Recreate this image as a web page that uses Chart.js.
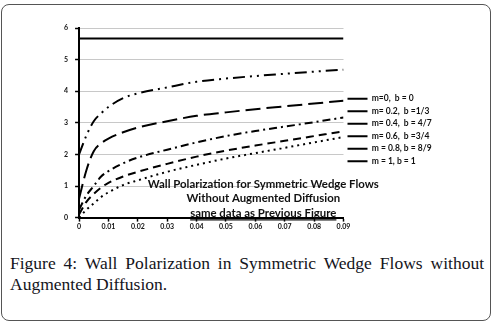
<!DOCTYPE html>
<html>
<head>
<meta charset="utf-8">
<script src="https://cdn.jsdelivr.net/npm/chart.js@4/dist/chart.umd.min.js"></script>
<style>
  html, body { margin: 0; padding: 0; background: #fff; }
  #frame {
    position: absolute; left: 1px; top: 4px; width: 490px; height: 317px;
    border: 1.5px solid #555; border-radius: 8px; box-sizing: border-box;
  }
  #wrap { position: absolute; left: 0; top: 0; width: 497px; height: 242px; }
  #caption {
    position: absolute; left: 10px; top: 253px; width: 474px;
    font-family: "Liberation Serif", serif; font-size: 17.5px; line-height: 21px;
    color: #141420; text-align: justify; text-align-last: left;
  }
</style>
</head>
<body>
<div id="frame"></div>
<div id="wrap"><canvas id="Grafik"></canvas></div>
<div id="caption">Figure 4: Wall Polarization in Symmetric Wedge Flows without Augmented Diffusion.</div>
<script>
// x positions
var xVals = [0, 0.0025, 0.005, 0.0075, 0.01, 0.015, 0.02, 0.03, 0.04, 0.05, 0.06, 0.07, 0.08, 0.09];

var m00 = [0, 0.25, 0.45, 0.65, 0.8, 1.03, 1.18, 1.45, 1.67, 1.87, 2.04, 2.21, 2.38, 2.55];
var m02 = [0.1, 0.5, 0.75, 0.95, 1.1, 1.3, 1.45, 1.7, 1.93, 2.12, 2.28, 2.43, 2.58, 2.73];
var m04 = [0.25, 0.7, 1.0, 1.3, 1.47, 1.72, 1.9, 2.15, 2.38, 2.58, 2.74, 2.88, 3.02, 3.17];
var m06 = [0.6, 1.5, 2.1, 2.35, 2.5, 2.7, 2.85, 3.05, 3.22, 3.33, 3.43, 3.52, 3.61, 3.7];
var m08 = [2.0, 2.6, 3.05, 3.3, 3.5, 3.78, 3.93, 4.12, 4.3, 4.4, 4.48, 4.55, 4.62, 4.68];
var m10 = [5.67, 5.67, 5.67, 5.67, 5.67, 5.67, 5.67, 5.67, 5.67, 5.67, 5.67, 5.67, 5.67, 5.67];

var labels = ['m=0,  b = 0', 'm= 0.2,  b =1/3', 'm= 0.4,  b = 4/7', 'm= 0.6,  b =3/4', 'm = 0.8, b = 8/9', 'm = 1, b = 1'];
var noteLines = ['Wall Polarization for Symmetric Wedge Flows', 'Without Augmented Diffusion', 'same data as Previous Figure'];

function pts(arr) {
    return arr.map(function (v, i) { return { x: xVals[i], y: v }; });
}

function seri(label, arr, dash) {
    return {
        label: label,
        data: pts(arr),
        borderColor: '#000',
        backgroundColor: '#000',
        borderWidth: 2,
        borderDash: dash,
        pointRadius: 0,
        cubicInterpolationMode: 'monotone',
        fill: false
    };
}

// text block inside the plot
var notePlugin = {
    id: 'note',
    afterDatasetsDraw: function (chart) {
        var c = chart.ctx;
        var sx = chart.scales.x, sy = chart.scales.y;
        var cx = sx.getPixelForValue(0.0627);
        var ys = [1.05, 0.6, 0.15];
        c.save();
        c.fillStyle = '#111';
        c.font = 'bold 11.4px Lato, "Open Sans", sans-serif';
        c.textAlign = 'center';
        c.textBaseline = 'middle';
        noteLines.forEach(function (t, i) {
            c.fillText(t, cx, sy.getPixelForValue(ys[i]));
        });
        var w = c.measureText(noteLines[2]).width;
        var uy = sy.getPixelForValue(ys[2]) + 7;
        c.strokeStyle = '#111';
        c.lineWidth = 1.2;
        c.beginPath();
        c.moveTo(cx - w / 2, uy);
        c.lineTo(cx + w / 2, uy);
        c.stroke();
        c.restore();
    }
};

var ctxG = document.getElementById('Grafik').getContext('2d');
var grafik = new Chart(ctxG, {
    type: 'line',
    data: {
        datasets: [
            seri(labels[0], m00, [2, 4]),
            seri(labels[1], m02, [8, 5]),
            seri(labels[2], m04, [8, 4, 2, 4]),
            seri(labels[3], m06, [15, 6]),
            seri(labels[4], m08, [12, 5, 2, 5, 2, 5]),
            seri(labels[5], m10, [])
        ]
    },
    options: {
        responsive: true,
        maintainAspectRatio: false,
        animation: false,
        layout: { padding: { left: 57, top: 28, right: 58, bottom: 10 } },
        plugins: {
            legend: {
                position: 'right',
                labels: {
                    usePointStyle: true,
                    pointStyle: 'line',
                    pointStyleWidth: 20,
                    padding: 4,
                    color: '#111',
                    font: { family: 'Lato, sans-serif', size: 8.5, weight: 'bold' }
                }
            },
            tooltip: { enabled: false }
        },
        scales: {
            x: {
                type: 'linear',
                min: 0,
                max: 0.09,
                ticks: {
                    stepSize: 0.01,
                    color: '#111',
                    padding: 1,
                    font: { family: 'Lato, sans-serif', size: 7, weight: 'bold' },
                    callback: function (v) { return String(Number(v.toFixed(2))); }
                },
                grid: { drawOnChartArea: false, tickLength: 4, tickColor: '#000', tickWidth: 1.5 },
                border: { color: '#000', width: 2 }
            },
            y: {
                min: 0,
                max: 6,
                ticks: {
                    stepSize: 1,
                    color: '#111',
                    padding: 7,
                    font: { family: 'Lato, sans-serif', size: 7, weight: 'bold' }
                },
                grid: { color: '#c8c8c8', lineWidth: 1, tickLength: 4, tickColor: '#000', tickWidth: 1.5 },
                border: { color: '#000', width: 2 }
            }
        }
    },
    plugins: [notePlugin]
});
</script>
</body>
</html>
